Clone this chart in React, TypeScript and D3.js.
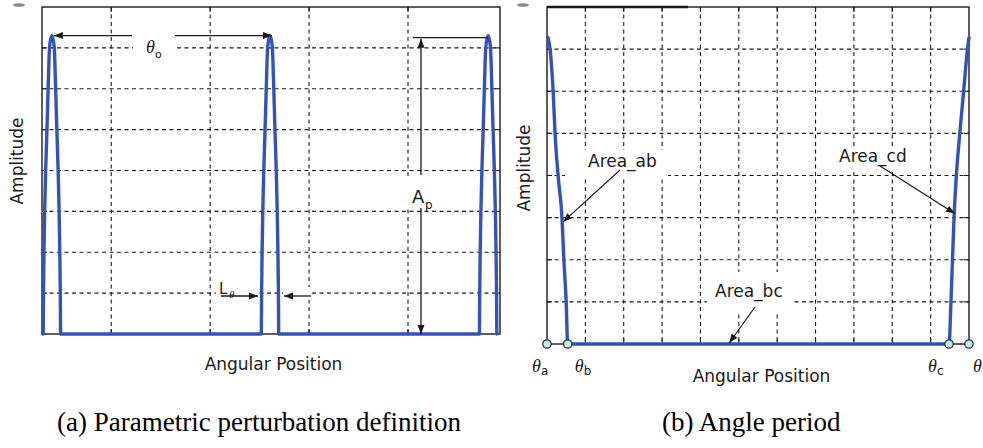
import React from 'react';
import * as d3 from 'd3';

// ---------- data ----------
// (a) parametric perturbation definition
const leftXGrid = [100, 200, 300, 400];
const ampGrid = [1, 2, 3, 4, 5, 6, 7];
const pulseCenters = [40, 260.5, 481];
const pulseAmps = [0, 1, 2, 3, 4, 5, 6, 7, 7.22, 7.3];
const pulseHalfWidths = [8.8, 8.5, 8.0, 7.3, 6.3, 5.0, 3.8, 2.4, 1.1, 0];
// (b) angle period
const rightXGrid = [1, 2, 3, 4, 5, 6, 7, 8, 9, 10];
const periodStartX = [0.03, 0.08, 0.16, 0.21, 0.29, 0.39, 0.44, 0.5, 0.54];
const periodStartAmp = [7.27, 7, 6, 5, 4, 3, 2, 1, 0];
const periodEndX = [10.48, 10.53, 10.57, 10.61, 10.67, 10.76, 10.86, 10.96, 11.0];
const periodEndAmp = [0, 1, 2, 3, 4, 5, 6, 7, 7.27];
const thetaMarks = [0, 0.54, 10.48, 11];
const thetaNames = ['a', 'b', 'c', ''];

const W = 983;
const H = 448;
const BLUE = '#3353b6';
const INK = '#1a1a1a';
const SANS = '"DejaVu Sans", Verdana, sans-serif';
const SERIF = '"Liberation Serif", "Times New Roman", serif';

const xL = d3.scaleLinear().domain([30, 493]).range([42, 500]);
const yL = d3.scaleLinear().domain([0, 8]).range([334, 7]);
const xR = d3.scaleLinear().domain([0, 11]).range([547, 969]);
const yR = d3.scaleLinear().domain([0, 8]).range([344, 7]);

type P = [number, number];

function pulseSeries(): P[] {
  const pts: P[] = [];
  pulseCenters.forEach((c) => {
    for (let i = 0; i < pulseAmps.length; i++) pts.push([c - pulseHalfWidths[i], pulseAmps[i]]);
    for (let i = pulseAmps.length - 2; i >= 0; i--) pts.push([c + pulseHalfWidths[i], pulseAmps[i]]);
  });
  return pts;
}

function periodSeries(): P[] {
  const pts: P[] = [];
  periodStartX.forEach((x, i) => pts.push([x, periodStartAmp[i]]));
  periodEndX.forEach((x, i) => pts.push([x, periodEndAmp[i]]));
  return pts;
}

const dash = '4,3.5';

function Grid({ xs, x, y, x0, x1, y0, y1 }: any) {
  return (
    <g stroke={INK} strokeWidth={1.1}>
      {xs.map((v: number) => (
        <g key={'v' + v}>
          <line x1={x(v)} x2={x(v)} y1={y(y1)} y2={y(y0)} strokeDasharray={dash} />
          <line x1={x(v)} x2={x(v)} y1={y(y1)} y2={y(y1) + 5} />
          <line x1={x(v)} x2={x(v)} y1={y(y0) - 5} y2={y(y0)} />
        </g>
      ))}
      {ampGrid.map((v) => (
        <g key={'h' + v}>
          <line x1={x(x0)} x2={x(x1)} y1={y(v)} y2={y(v)} strokeDasharray={dash} />
          <line x1={x(x0)} x2={x(x0) + 5} y1={y(v)} y2={y(v)} />
          <line x1={x(x1) - 5} x2={x(x1)} y1={y(v)} y2={y(v)} />
        </g>
      ))}
    </g>
  );
}

export default function App() {
  const lineL = d3
    .line<P>()
    .x((d) => xL(d[0]))
    .y((d) => yL(d[1]))
    .curve(d3.curveMonotoneX);
  const lineR = d3
    .line<P>()
    .x((d) => xR(d[0]))
    .y((d) => yR(d[1]))
    .curve(d3.curveMonotoneX);

  const pulseTop = yL(7.3);
  const apX = 421;

  return (
    <svg
      width={W}
      height={H}
      viewBox={`0 0 ${W} ${H}`}
      style={{ position: 'absolute', left: 0, top: 0, background: '#fff' }}
    >
      <defs>
        <marker
          id="ah"
          markerUnits="userSpaceOnUse"
          markerWidth={10}
          markerHeight={8}
          refX={9}
          refY={4}
          orient="auto-start-reverse"
        >
          <path d="M0,0.5 L9,4 L0,7.5 z" fill={INK} />
        </marker>
      </defs>
      <rect x={0} y={0} width={W} height={H} fill="#fff" />

      {/* small cropped marks at the top */}
      <ellipse cx={19} cy={5} rx={6} ry={1.8} fill="#555" opacity={0.7} />
      <ellipse cx={523} cy={5} rx={6} ry={1.8} fill="#555" opacity={0.7} />

      {/* ===== panel (a) ===== */}
      <Grid xs={leftXGrid} x={xL} y={yL} x0={30} x1={493} y0={0} y1={8} />
      {/* label backgrounds */}
      <rect x={133} y={26} width={41} height={30} fill="#fff" />
      <rect x={406} y={176} width={32} height={31} fill="#fff" />
      <rect x={216} y={287} width={42} height={13} fill="#fff" />
      <rect x={283} y={287} width={28} height={13} fill="#fff" />
      <rect x={42} y={7} width={458} height={327} fill="none" stroke={INK} strokeWidth={1.4} />
      <path
        d={lineL(pulseSeries()) || ''}
        fill="none"
        stroke={BLUE}
        strokeWidth={3.4}
        strokeLinejoin="round"
        strokeLinecap="round"
      />
      {/* theta_o arrow */}
      <g stroke={INK} strokeWidth={1.3}>
        <line x1={132} x2={xL(pulseCenters[0]) + 2} y1={pulseTop} y2={pulseTop} markerEnd="url(#ah)" />
        <line x1={175} x2={xL(pulseCenters[1]) + 2} y1={pulseTop} y2={pulseTop} markerEnd="url(#ah)" />
      </g>
      <text x={146} y={53} fontFamily={SERIF} fontStyle="italic" fontSize={18} fill={INK}>
        θ
      </text>
      <text x={155} y={58} fontFamily={SANS} fontSize={11} fill={INK}>
        o
      </text>
      {/* A_p arrow */}
      <g stroke={INK} strokeWidth={1.3}>
        <line x1={413} x2={xL(pulseCenters[2])} y1={yL(7.25)} y2={yL(7.25)} />
        <line x1={apX} x2={apX} y1={175} y2={yL(7.25) + 1} markerEnd="url(#ah)" />
        <line x1={apX} x2={apX} y1={208} y2={yL(0)} markerEnd="url(#ah)" />
      </g>
      <text x={412} y={203} fontFamily={SANS} fontSize={18} fill={INK}>
        A
      </text>
      <text x={425} y={209} fontFamily={SANS} fontSize={12} fill={INK}>
        p
      </text>
      {/* L_theta arrows */}
      <g stroke={INK} strokeWidth={1.3}>
        <line x1={221} x2={258} y1={296} y2={296} markerEnd="url(#ah)" />
        <line x1={311} x2={284} y1={296} y2={296} markerEnd="url(#ah)" />
      </g>
      <text x={219} y={294} fontFamily={SANS} fontSize={15} fill={INK}>
        L
      </text>
      <text x={229} y={298} fontFamily={SERIF} fontStyle="italic" fontSize={11} fill={INK}>
        θ
      </text>
      <text x={273.5} y={370} textAnchor="middle" fontFamily={SANS} fontSize={17} fill={INK}>
        Angular Position
      </text>
      <text
        transform="translate(23,161) rotate(-90)"
        textAnchor="middle"
        fontFamily={SANS}
        fontSize={17}
        fill={INK}
      >
        Amplitude
      </text>

      {/* ===== panel (b) ===== */}
      <Grid xs={rightXGrid} x={xR} y={yR} x0={0} x1={11} y0={0} y1={8} />
      <rect x={565} y={150} width={103} height={28} fill="#fff" />
      <rect x={835} y={146} width={76} height={24} fill="#fff" />
      <rect x={707} y={272} width={86} height={40} fill="#fff" />
      <rect x={547} y={7} width={422} height={337} fill="none" stroke={INK} strokeWidth={1.4} />
      <line x1={547} x2={688} y1={7} y2={7} stroke={INK} strokeWidth={2.6} />
      <path
        d={lineR(periodSeries()) || ''}
        fill="none"
        stroke={BLUE}
        strokeWidth={3.4}
        strokeLinejoin="round"
        strokeLinecap="round"
      />
      {thetaMarks.map((t, i) => (
        <circle key={i} cx={xR(t)} cy={yR(0)} r={4.2} fill="#cfe5e3" stroke="#1f3b3b" strokeWidth={1.3} />
      ))}
      {/* annotations */}
      <text x={588} y={167} fontFamily={SANS} fontSize={17} fill={INK}>
        Area_ab
      </text>
      <text x={839} y={162} fontFamily={SANS} fontSize={17} fill={INK}>
        Area_cd
      </text>
      <text x={715} y={297} fontFamily={SANS} fontSize={17} fill={INK}>
        Area_bc
      </text>
      <g stroke={INK} strokeWidth={1.2}>
        <line x1={620} y1={170} x2={xR(0.42)} y2={yR(2.9)} markerEnd="url(#ah)" />
        <line x1={880} y1={166} x2={xR(10.63)} y2={yR(3.1)} markerEnd="url(#ah)" />
        <line x1={755} y1={307} x2={xR(4.75)} y2={yR(0) - 1} markerEnd="url(#ah)" />
      </g>
      {thetaMarks.map((t, i) => {
        const off = [-15, 7, -21, 4][i];
        const x = xR(t) + off;
        return (
          <g key={'th' + i}>
            <text x={x} y={372} fontFamily={SERIF} fontStyle="italic" fontSize={18} fill={INK}>
              θ
            </text>
            {thetaNames[i] ? (
              <text x={x + 9} y={375} fontFamily={SANS} fontSize={12} fill={INK}>
                {thetaNames[i]}
              </text>
            ) : null}
          </g>
        );
      })}
      <text x={761.5} y={382} textAnchor="middle" fontFamily={SANS} fontSize={17} fill={INK}>
        Angular Position
      </text>
      <text
        transform="translate(530,168) rotate(-90)"
        textAnchor="middle"
        fontFamily={SANS}
        fontSize={17}
        fill={INK}
      >
        Amplitude
      </text>

      {/* captions */}
      <text x={57} y={431} fontFamily={SERIF} fontSize={27} fill="#000">
        (a) Parametric perturbation definition
      </text>
      <text x={662} y={431} fontFamily={SERIF} fontSize={27} fill="#000">
        (b) Angle period
      </text>
    </svg>
  );
}
